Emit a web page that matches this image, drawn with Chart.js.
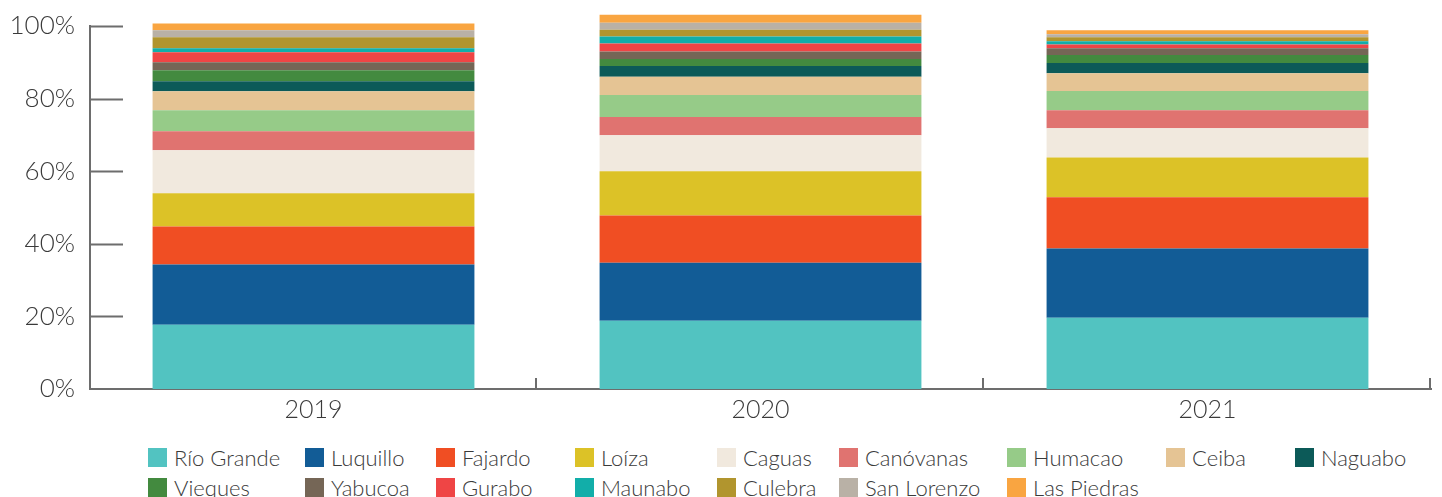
<!DOCTYPE html>
<html>
<head>
<meta charset="utf-8">
<script src="https://cdn.jsdelivr.net/npm/chart.js@4/dist/chart.umd.min.js"></script>
<style>
  body { margin: 0; background: #fff; }
  #wrap { position: relative; width: 1442px; height: 497px; overflow: hidden; }
  #legend {
    position: absolute; left: 148px; top: 448px;
    display: grid;
    grid-template-columns: 157px 131px 139px 142px 122px 168px 159px 129px auto;
    grid-auto-rows: 30px;
    font-family: Lato, "Noto Sans", sans-serif; font-weight: 300; font-size: 22px; color: #3a3a3a;
  }
  #legend div { display: flex; align-items: flex-start; white-space: nowrap; }
  #legend span.box { display: inline-block; width: 19px; height: 19px; margin-right: 7px; }
  #legend span.txt { line-height: 19px; }
</style>
</head>
<body>
<div id="wrap">
  <canvas id="chart" width="1442" height="440"></canvas>
  <div id="legend"></div>
</div>
<script>
const years = ['2019', '2020', '2021'];

const municipios = ['Río Grande', 'Luquillo', 'Fajardo', 'Loíza', 'Caguas', 'Canóvanas', 'Humacao', 'Ceiba',
  'Naguabo', 'Vieques', 'Yabucoa', 'Gurabo', 'Maunabo', 'Culebra', 'San Lorenzo', 'Las Piedras'];

const colores = ['#52c3c1', '#125c96', '#f04e23', '#dcc227', '#f1e9de', '#e07370', '#96cb88', '#e5c494',
  '#0c5a58', '#438a3f', '#756656', '#ef4545', '#12aea9', '#b1952e', '#b9b1a6', '#f9a541'];

// share per year, same order as municipios
const share2019 = [17.7, 16.6, 10.5, 9.1, 11.9, 5.2, 5.8, 5.2, 2.8, 3.0, 2.2, 2.8, 1.1, 3.0, 1.9, 1.9];
const share2020 = [18.8, 16.0, 13.0, 12.2, 9.9, 5.0, 6.1, 5.0, 3.0, 1.9, 2.1, 2.2, 1.9, 1.9, 1.9, 2.2];
const share2021 = [19.6, 19.1, 14.1, 11.0, 8.0, 5.0, 5.3, 4.9, 2.8, 2.2, 1.9, 1.0, 0.9, 1.1, 0.8, 1.1];

const yTicks = [0, 20, 40, 60, 80, 100];

const axisGrey = '#6d6d6d';
const txt = '#3a3a3a';
const fontFam = 'Lato, "Noto Sans", sans-serif';

let datasets = municipios.map((m, i) => ({
  label: m,
  data: [share2019[i], share2020[i], share2021[i]],
  backgroundColor: colores[i],
  borderWidth: 0,
  clip: false
}));

// tick marks point inward on this chart, draw them from the scales
const innerTicks = {
  id: 'innerTicks',
  afterDraw(chart) {
    const ctx = chart.ctx;
    const x = chart.scales.x, y = chart.scales.y;
    const area = chart.chartArea;
    ctx.save();
    ctx.strokeStyle = axisGrey;
    ctx.lineWidth = 2;
    yTicks.forEach(v => {
      if (v === 0) return;
      let py = Math.round(y.getPixelForValue(v)) + 0.5;
      ctx.beginPath();
      ctx.moveTo(area.left, py);
      ctx.lineTo(area.left + 33, py);
      ctx.stroke();
    });
    const step = (area.right - area.left) / years.length;
    for (let i = 1; i <= years.length; i++) {
      let px = Math.round(area.left + i * step) - 1;
      ctx.beginPath();
      ctx.moveTo(px, area.bottom);
      ctx.lineTo(px, area.bottom - 11);
      ctx.stroke();
    }
    ctx.restore();
  }
};

const chart = new Chart(document.getElementById('chart'), {
  type: 'bar',
  data: { labels: years, datasets: datasets },
  options: {
    responsive: false,
    animation: false,
    layout: { padding: { top: 26, right: 11, left: 0, bottom: 1 } },
    datasets: { bar: { categoryPercentage: 1, barPercentage: 0.72 } },
    plugins: { legend: { display: false }, tooltip: { enabled: false } },
    scales: {
      x: {
        stacked: true,
        grid: { display: false, drawTicks: false },
        border: { display: true, color: axisGrey, width: 2 },
        ticks: { color: txt, padding: 6, font: { family: fontFam, size: 25, weight: '300' } },
        afterFit: s => { s.height = 50; }
      },
      y: {
        stacked: true,
        min: 0, max: 100,
        grid: { display: false, drawTicks: false },
        border: { display: true, color: axisGrey, width: 2 },
        ticks: {
          stepSize: 20, padding: 15, color: txt,
          font: { family: fontFam, size: 26, weight: '300' },
          callback: v => v + '%'
        },
        afterFit: s => { s.width = 90; s.paddingTop = 0; s.paddingBottom = 0; }
      }
    }
  },
  plugins: [innerTicks]
});

// legend laid out as a grid like the original
const legend = document.getElementById('legend');
chart.data.datasets.forEach(ds => {
  let item = document.createElement('div');
  item.innerHTML = '<span class="box" style="background:' + ds.backgroundColor + '"></span><span class="txt">' + ds.label + '</span>';
  legend.appendChild(item);
});
</script>
</body>
</html>
